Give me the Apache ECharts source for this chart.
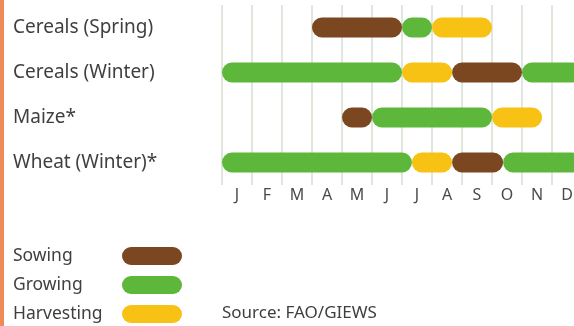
<!DOCTYPE html>
<html>
<head>
<meta charset="utf-8">
<script src="https://cdn.jsdelivr.net/npm/echarts@6/dist/echarts.min.js"></script>
<style>
  html, body { margin: 0; padding: 0; background: #fff; }
  #chart { width: 574px; height: 326px; }
</style>
</head>
<body>
<div id="chart"></div>
<script>
// crops, top to bottom
const crops = ['Cereals (Spring)', 'Cereals (Winter)', 'Maize*', 'Wheat (Winter)*'];
const months = ['J', 'F', 'M', 'A', 'M', 'J', 'J', 'A', 'S', 'O', 'N', 'D'];

// [crop index, start month, end month]  (0 = start of Jan, 12 = end of Dec)
const sowing = [[0, 3, 6], [1, 7.67, 10], [2, 4, 5], [3, 7.67, 9.37]];
const growing = [[0, 6, 7], [1, 0, 6], [1, 10, 12], [2, 5, 9], [3, 0, 6.33], [3, 9.37, 12]];
const harvesting = [[0, 7, 9], [1, 6, 7.67], [2, 9, 10.67], [3, 6.33, 7.67]];

const font = 'Noto Sans';
const textColor = '#3f3f3f';

function renderItem(params, api) {
  let row = api.value(0);
  let a = api.coord([api.value(1), row]);
  let b = api.coord([api.value(2), row]);
  let h = api.size([0, 1])[1] * 0.44;
  return {
    type: 'rect',
    shape: { x: a[0], y: a[1] - h / 2, width: b[0] - a[0], height: h, r: h / 2 },
    style: api.style()
  };
}

function stage(name, color, data) {
  return {
    name: name,
    type: 'custom',
    renderItem: renderItem,
    xAxisIndex: 0,
    yAxisIndex: 0,
    itemStyle: { color: color },
    encode: { x: [1, 2], y: 0 },
    data: data
  };
}

let chart = echarts.init(document.getElementById('chart'));
chart.setOption({
  animation: false,
  backgroundColor: '#fff',
  textStyle: { fontFamily: font },
  graphic: [{
    type: 'rect', left: 0, top: 0,
    shape: { width: 4, height: 326 },
    style: { fill: '#ef8a5b' }
  }],
  title: {
    text: 'Source: FAO/GIEWS',
    left: 217, top: 300,
    textStyle: { fontFamily: font, fontSize: 17, fontWeight: 'normal', color: textColor }
  },
  legend: {
    orient: 'vertical',
    left: 13, top: 247, height: 79,
    padding: 0,
    align: 'right',
    itemWidth: 60, itemHeight: 18, itemGap: 11,
    icon: 'path://M9,0 H51 A9,9 0 0 1 51,18 H9 A9,9 0 0 1 9,0 Z',
    selectedMode: false,
    formatter: name => '{t|' + name + '}',
    textStyle: {
      rich: { t: { width: 104, align: 'left', lineHeight: 18, fontSize: 17.5, fontFamily: font, color: textColor } }
    },
    data: ['Sowing', 'Growing', 'Harvesting']
  },
  grid: { left: 222, width: 360, top: 5, height: 180, outerBoundsMode: 'none', containLabel: false },
  xAxis: [{
    type: 'value', min: 0, max: 12, show: false, position: 'top'
  }, {
    type: 'category', data: months, position: 'bottom', boundaryGap: true,
    axisLine: { show: false }, axisTick: { show: false },
    splitLine: { show: true, lineStyle: { color: '#e0e7dc', width: 2 } },
    axisLabel: { color: '#4a4a4a', fontSize: 16, margin: 2, fontFamily: font }
  }],
  yAxis: {
    type: 'category', data: crops, inverse: true,
    axisLine: { show: false }, axisTick: { show: false }, splitLine: { show: false },
    axisLabel: { align: 'left', margin: 209, fontSize: 19, color: textColor, fontFamily: font }
  },
  series: [
    stage('Sowing', '#7b4720', sowing),
    stage('Growing', '#5cb73a', growing),
    stage('Harvesting', '#f7c213', harvesting)
  ]
});
</script>
</body>
</html>
